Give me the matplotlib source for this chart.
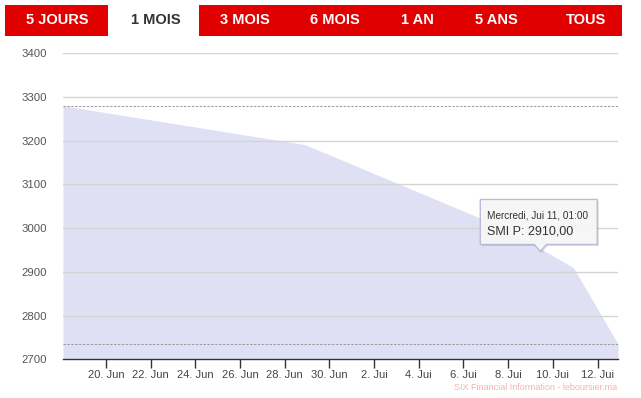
import matplotlib
matplotlib.use("Agg")
import matplotlib.pyplot as plt
import matplotlib.dates as mdates
from matplotlib.patches import Rectangle, Polygon
import pandas as pd
import numpy as np

# ---- data ----
dates = ["2018-06-18 02:00", "2018-06-28 22:00", "2018-07-07 22:00",
         "2018-07-10 22:00", "2018-07-12 22:00"]
values = [3280, 3191, 2998, 2910, 2735]
max_line = 3280
min_line = 2735
y_ticks = [2700, 2800, 2900, 3000, 3100, 3200, 3300, 3400]
x_tick_dates = ["2018-06-20", "2018-06-22", "2018-06-24", "2018-06-26", "2018-06-28",
                "2018-06-30", "2018-07-02", "2018-07-04", "2018-07-06", "2018-07-08",
                "2018-07-10", "2018-07-12"]
x_tick_labels = ["20. Jun", "22. Jun", "24. Jun", "26. Jun", "28. Jun", "30. Jun",
                 "2. Jui", "4. Jui", "6. Jui", "8. Jui", "10. Jui", "12. Jui"]
buttons = ["5 JOURS", "1 MOIS", "3 MOIS", "6 MOIS", "1 AN", "5 ANS", "TOUS"]
selected = "1 MOIS"
tooltip_index = 3
tooltip_title = "Mercredi, Jui 11, 01:00"
tooltip_value = "SMI P: 2910,00"
credit = "SIX Financial Information - leboursier.ma"

W, H = 641, 398
plt.rcParams['font.family'] = ['Liberation Sans', 'DejaVu Sans']
fig = plt.figure(figsize=(W / 100, H / 100), dpi=100)

def fx(px):
    return px / W

def fy(py):
    return 1 - py / H

ax = fig.add_axes([fx(63), fy(359.3), fx(618) - fx(63), fy(53.3) - fy(359.3)])

x = pd.to_datetime(dates)
xt = pd.to_datetime(x_tick_dates)

ax.fill_between(x, values, 2700, color="#dfe0f4", linewidth=0, zorder=1)
ax.set_xlim(x[0], x[-1])
ax.set_ylim(2700, 3400)

ax.set_axisbelow(False)
ax.set_yticks(y_ticks)
ax.set_yticklabels([str(v) for v in y_ticks], color="#555555", fontsize=8.2)
ax.yaxis.grid(True, color="#d4d4d4", linewidth=1)
ax.tick_params(axis='y', length=0, pad=11.5)

ax.set_xticks(xt)
ax.set_xticklabels(x_tick_labels, color="#444444", fontsize=8)
ax.tick_params(axis='x', length=6.5, width=1, color="#333333", pad=1.5, direction='out')

for s in ["top", "right", "left"]:
    ax.spines[s].set_visible(False)
ax.spines["bottom"].set_color("#333333")
ax.spines["bottom"].set_linewidth(1)

ax.axhline(max_line, color="#999999", linewidth=0.7, linestyle=(0, (2.5, 1.5)), zorder=3)
ax.axhline(min_line, color="#999999", linewidth=0.7, linestyle=(0, (2.5, 1.5)), zorder=3)

# ---- buttons ----
btn_bounds = [(5, 108), (108, 199), (199, 290), (290, 380), (380, 454), (454, 540), (540, 622)]
btn_centers = [57, 156, 245, 335, 417, 496, 586]
fig.patches.append(Rectangle((fx(5), fy(36)), fx(622) - fx(5), fy(5) - fy(36),
                             transform=fig.transFigure, facecolor="#e10000",
                             edgecolor="none", zorder=0))
for label, (l, r), c in zip(buttons, btn_bounds, btn_centers):
    if label == selected:
        fig.patches.append(Rectangle((fx(l), fy(36)), fx(r) - fx(l), fy(5) - fy(36),
                                     transform=fig.transFigure, facecolor="white",
                                     edgecolor="none", zorder=1))
        col = "#333333"
    else:
        col = "white"
    fig.text(fx(c), fy(20.5), label, ha="center", va="center", color=col,
             fontsize=10.5, fontweight="bold")

# ---- tooltip ----
fig.canvas.draw()
px, py = ax.transData.transform((mdates.date2num(x[tooltip_index]), values[tooltip_index]))
bl, br = px - 93, px + 24
bt, bb = py + 68, py + 23
tipx, tipy = px - 33, py + 16
shape = [(bl, bb), (tipx - 6, bb), (tipx, tipy), (tipx + 6, bb), (br, bb), (br, bt), (bl, bt)]
shadow = [(a + 1.5, b - 1.5) for a, b in shape]
fig.patches.append(Polygon(shadow, closed=True, transform=None, facecolor="#000000",
                           alpha=0.12, edgecolor="none", zorder=5))
fig.patches.append(Polygon(shape, closed=True, transform=None, facecolor="#f8f8f8",
                           alpha=0.95, edgecolor="#b8b8d8", linewidth=1, zorder=6))
fig.text((bl + 7) / W, (bt - 16) / H, tooltip_title, fontsize=7.2, color="#333333",
         ha="left", va="center", zorder=7)
fig.text((bl + 7) / W, (bt - 32) / H, tooltip_value, fontsize=9, color="#333333",
         ha="left", va="center", zorder=7)

# ---- credit ----
fig.text(fx(617), fy(388), credit, ha="right", va="center", fontsize=6.5, color="#f2b3b3")

fig.savefig("out.png", dpi=100)
